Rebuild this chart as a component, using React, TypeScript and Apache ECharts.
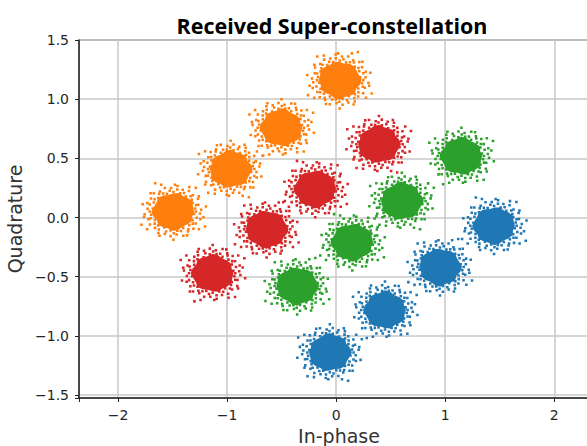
import React, { useEffect, useRef } from "react";
import * as echarts from "echarts";

// Cluster centres (In-phase, Quadrature) of the received super-constellation, one array per user group
const blueCenters: [number, number][] = [
  [1.45, -0.07],
  [0.95, -0.42],
  [0.45, -0.78],
  [-0.06, -1.14],
];
const orangeCenters: [number, number][] = [
  [0.03, 1.16],
  [-0.5, 0.76],
  [-0.97, 0.41],
  [-1.49, 0.05],
];
const greenCenters: [number, number][] = [
  [1.15, 0.52],
  [0.6, 0.14],
  [0.15, -0.21],
  [-0.36, -0.58],
];
const redCenters: [number, number][] = [
  [0.39, 0.62],
  [-0.19, 0.24],
  [-0.64, -0.1],
  [-1.13, -0.47],
];

const seriesNames = ["Group 1", "Group 2", "Group 3", "Group 4"];
const seriesColors = ["#1f77b4", "#ff7f0e", "#2ca02c", "#d62728"];

const xTickValues = [-2, -1, 0, 1, 2];
const yTickValues = [-1.5, -1.0, -0.5, 0.0, 0.5, 1.0, 1.5];

// Marker artwork: a dense irregular blob (outline radii every 15°) with speckles around it
const CORE_RADII = [36, 34, 37, 35, 33, 36, 38, 34, 35, 37, 33, 36, 38, 35, 34, 37, 36, 33, 35, 37, 34, 36, 38, 35];
// speckles as [angle in degrees, radius]
const SPECKLE_POLAR: [number, number][] = [
  [0, 39], [8, 36], [17, 42], [27, 37], [35, 41], [44, 38], [53, 43], [62, 36], [71, 40], [80, 38],
  [89, 42], [98, 37], [108, 41], [117, 35], [126, 43], [134, 38], [144, 40], [153, 36], [162, 42], [171, 39],
  [180, 41], [189, 36], [198, 43], [207, 38], [216, 40], [225, 37], [234, 42], [243, 39], [252, 36], [261, 41],
  [270, 38], [279, 43], [288, 37], [297, 40], [306, 36], [315, 42], [324, 39], [333, 37], [342, 41], [351, 38],
  [5, 46], [18, 49], [31, 45], [44, 48], [57, 46], [70, 50], [83, 45], [96, 48], [109, 46], [122, 49],
  [135, 45], [148, 48], [161, 46], [174, 50], [187, 45], [200, 48], [213, 46], [226, 49], [239, 45], [252, 48],
  [265, 46], [278, 50], [291, 45], [304, 48], [317, 46], [330, 49], [343, 45], [356, 48],
  [12, 53], [38, 56], [63, 52], [90, 55], [117, 53], [143, 57], [168, 52], [195, 55], [222, 53], [248, 56],
  [273, 52], [300, 55], [326, 53], [350, 57],
  [28, 62], [155, 61], [240, 63], [310, 60],
];
const SQUASH = 0.9;
const DOT = 2.2;

function cloudSymbol(mx: number, my: number): string {
  const f = (n: number) => n.toFixed(1);
  const rad = Math.PI / 180;
  const core = CORE_RADII.map((r, i) => {
    const a = i * 15 * rad;
    return `${i === 0 ? "M" : "L"}${f(r * Math.cos(a) * mx)} ${f(r * Math.sin(a) * SQUASH * my)}`;
  }).join(" ") + " Z";
  const dots = SPECKLE_POLAR.map(([deg, r]) => {
    const x = r * Math.cos(deg * rad);
    const y = r * Math.sin(deg * rad) * SQUASH;
    const c: [number, number][] = [
      [x - DOT, y - DOT], [x + DOT, y - DOT], [x + DOT, y + DOT], [x - DOT, y + DOT],
    ];
    return c.map(([a, b], i) => `${i === 0 ? "M" : "L"}${f(a * mx)} ${f(b * my)}`).join(" ") + " Z";
  }).join(" ");
  return "path://" + core + " " + dots;
}

const SYMBOLS = [cloudSymbol(1, 1), cloudSymbol(-1, 1), cloudSymbol(1, -1), cloudSymbol(-1, -1)];

const fmtMinus = (s: string) => s.replace("-", "\u2212");

export default function App() {
  const ref = useRef<HTMLDivElement>(null);

  useEffect(() => {
    if (!ref.current) return;
    const chart = echarts.init(ref.current, undefined, { renderer: "svg" });
    const groups = [blueCenters, orangeCenters, greenCenters, redCenters];

    const axisText = { color: "#262626", fontFamily: "DejaVu Sans", fontSize: 14 };

    chart.setOption({
      animation: false,
      backgroundColor: "#ffffff",
      title: {
        text: "Received Super-constellation",
        left: 327,
        top: 9,
        textAlign: "center",
        textStyle: { fontFamily: "Open Sans", fontWeight: "bold", fontSize: 21.5, color: "#000" },
      },
      grid: {
        left: 79,
        top: 40,
        bottom: 48,
        right: 0,
        outerBoundsMode: "none",
        containLabel: false,
        show: true,
        borderColor: "#333",
        borderWidth: 1,
        backgroundColor: "transparent",
      },
      xAxis: {
        type: "value",
        min: -2.358,
        max: 2.41,
        name: "In-phase",
        nameLocation: "middle",
        nameGap: 28,
        nameTextStyle: { color: "#333", fontFamily: "DejaVu Sans", fontSize: 19 },
        axisLine: { show: true, onZero: false, lineStyle: { color: "#222", width: 1.5 } },
        axisTick: { show: true, length: 4, lineStyle: { color: "#222" } },
        axisLabel: {
          ...axisText,
          margin: 10,
          formatter: (v: number) => (xTickValues.some((t) => Math.abs(t - v) < 1e-6) ? fmtMinus(String(Math.round(v))) : ""),
        },
        splitLine: { show: true, lineStyle: { color: "#c8c8c8", width: 1.5 } },
      },
      yAxis: {
        type: "value",
        min: -1.525,
        max: 1.5,
        name: "Quadrature",
        nameLocation: "middle",
        nameGap: 48,
        nameTextStyle: { color: "#333", fontFamily: "DejaVu Sans", fontSize: 19 },
        axisLine: { show: true, onZero: false, lineStyle: { color: "#222", width: 1.5 } },
        axisTick: { show: true, length: 4, lineStyle: { color: "#222" } },
        axisLabel: {
          ...axisText,
          margin: 10,
          formatter: (v: number) => (yTickValues.some((t) => Math.abs(t - v) < 1e-6) ? fmtMinus(v.toFixed(1)) : ""),
        },
        splitLine: { show: true, lineStyle: { color: "#c8c8c8", width: 1.5 } },
      },
      series: groups.map((centers, gi) => ({
        name: seriesNames[gi],
        type: "scatter",
        symbolSize: [67, 59],
        itemStyle: { color: seriesColors[gi], opacity: 1 },
        data: centers.map((c, i) => ({ value: c, symbol: SYMBOLS[(i + gi) % SYMBOLS.length] })),
      })),
    });

    return () => chart.dispose();
  }, []);

  // the plotting area runs past the right edge of the window, so the frame is cut there
  return (
    <div
      ref={ref}
      style={{ position: "fixed", left: 0, top: 0, width: 599, height: 446 }}
    />
  );
}
